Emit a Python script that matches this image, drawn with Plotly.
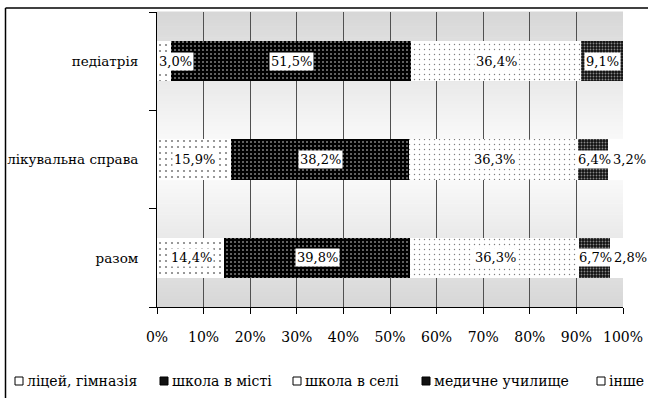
import plotly.graph_objects as go

# ---------------- data ----------------
categories = ["педіатрія", "лікувальна справа", "разом"]
series_names = ["ліцей, гімназія", "школа в місті", "школа в селі",
                "медичне училище", "інше"]
liceum = [3.0, 15.9, 14.4]
school_city = [51.5, 38.2, 39.8]
school_village = [36.4, 36.3, 36.3]
med_college = [9.1, 6.4, 6.7]
other = [0.0, 3.2, 2.8]
x_tick_values = [0, 10, 20, 30, 40, 50, 60, 70, 80, 90, 100]
x_tick_labels = ["0%", "10%", "20%", "30%", "40%", "50%", "60%", "70%",
                 "80%", "90%", "100%"]

series_values = [liceum, school_city, school_village, med_college, other]

# ---------------- styles ----------------
FONT = "DejaVu Serif"
FS = 14
FS_LAB = 13
FS_CAT = 13.5
W, H = 648, 398
ML, MR, MT, MB = 157, 25, 12, 91
PW, PH = W - ML - MR, H - MT - MB


def px_x(px):
    return (px - ML) / PW


def px_y(py):
    return (H - MB - py) / PH


patterns = [
    dict(shape=".", bgcolor="white", fgcolor="black", size=6, solidity=0.1),
    dict(shape=".", bgcolor="black", fgcolor="white", size=4, solidity=0.2),
    dict(shape=".", bgcolor="white", fgcolor="black", size=5, solidity=0.06),
    dict(shape=".", bgcolor="#111111", fgcolor="white", size=3, solidity=0.3),
    dict(shape="", bgcolor="white", fgcolor="white"),
]
base_colors = ["white", "black", "white", "#111111", "white"]

fig = go.Figure()
for name, vals, pat, col in zip(series_names, series_values, patterns, base_colors):
    fig.add_trace(go.Bar(
        y=categories, x=vals, name=name, orientation="h",
        width=0.41,
        marker=dict(color=col, line=dict(width=0), pattern=pat),
        hoverinfo="skip",
    ))

# ---------------- background gradient (gray edges, white centre) ----------------
shapes = []
N = 80
for i in range(N):
    y0 = i / N
    y1 = (i + 1) / N
    t = abs((y0 + y1) / 2 - 0.5) / 0.5
    g = int(round(255 - (255 - 214) * t))
    shapes.append(dict(type="rect", xref="paper", yref="paper",
                       x0=0, x1=1, y0=y0, y1=y1 + 0.002, layer="below",
                       line=dict(width=0), fillcolor=f"rgb({g},{g},{g})"))

# chart frame (left and top edge visible)
shapes.append(dict(type="line", xref="paper", yref="paper",
                   x0=px_x(5.5), x1=px_x(5.5), y0=px_y(8), y1=px_y(420),
                   line=dict(color="black", width=1.5)))
shapes.append(dict(type="line", xref="paper", yref="paper",
                   x0=px_x(5.5), x1=px_x(660), y0=px_y(8), y1=px_y(8),
                   line=dict(color="black", width=1.5)))

# ---------------- data labels ----------------
annotations = []
PX_PER_UNIT = PW / 100.0


def label_width_px(txt):
    w = 0
    for ch in txt:
        if ch.isdigit():
            w += 0.636 * FS_LAB
        elif ch == ",":
            w += 0.318 * FS_LAB
        elif ch == "%":
            w += 0.95 * FS_LAB
    return w + 2


for ci, cat in enumerate(categories):
    cum = 0.0
    prev_right = 0.0
    for si in range(len(series_names)):
        v = series_values[si][ci]
        if v <= 0:
            cum += v
            continue
        centre = cum + v / 2
        cum += v
        txt = f"{v:.1f}".replace(".", ",") + "%"
        wunits = label_width_px(txt) / PX_PER_UNIT
        left = max(centre - wunits / 2, prev_right, 0)
        prev_right = left + wunits
        annotations.append(dict(
            x=left, y=cat, xref="x", yref="y", text=txt, showarrow=False,
            xanchor="left", yanchor="middle", bgcolor="white", borderpad=1,
            font=dict(family=FONT, size=FS_LAB, color="black"),
        ))

# ---------------- manual legend ----------------
legend_items = [
    (15, "white", "black"),
    (160, "#111111", "black"),
    (293, "white", "black"),
    (422, "#111111", "black"),
    (597, "white", "black"),
]
legend_y = 381
for (sx, fill, line), name in zip(legend_items, series_names):
    shapes.append(dict(type="rect", xref="paper", yref="paper",
                       x0=px_x(sx), x1=px_x(sx + 8),
                       y0=px_y(legend_y + 4), y1=px_y(legend_y - 4),
                       fillcolor=fill, line=dict(color=line, width=1)))
    annotations.append(dict(
        x=px_x(sx + 10), y=px_y(legend_y), xref="paper", yref="paper",
        text=name, showarrow=False, xanchor="left", yanchor="middle",
        font=dict(family=FONT, size=FS, color="black"),
    ))

fig.update_layout(
    width=W, height=H,
    margin=dict(l=ML, r=MR, t=MT, b=MB, pad=0, autoexpand=False),
    barmode="stack",
    paper_bgcolor="white",
    plot_bgcolor="rgba(0,0,0,0)",
    showlegend=False,
    shapes=shapes,
    annotations=annotations,
    font=dict(family=FONT, size=FS, color="black"),
    xaxis=dict(
        range=[0, 100], tickvals=x_tick_values, ticktext=x_tick_labels,
        showgrid=True, gridcolor="#505050", gridwidth=1,
        showline=True, linecolor="black", linewidth=1,
        ticks="outside", ticklen=6, tickcolor="black",
        zeroline=False, ticklabelstandoff=11, automargin=False,
        tickfont=dict(family=FONT, size=FS, color="black"),
    ),
    yaxis=dict(
        categoryorder="array", categoryarray=categories[::-1],
        showgrid=False, showline=True, linecolor="black", linewidth=1,
        ticks="outside", ticklen=7, tickcolor="black", tickson="boundaries",
        ticklabelstandoff=15, automargin=False,
        tickfont=dict(family=FONT, size=FS_CAT, color="black"),
    ),
)

fig.write_html(
    "out.html",
    config={"displayModeBar": False},
    post_script="document.body.style.margin='0';document.body.style.overflow='hidden';",
)
